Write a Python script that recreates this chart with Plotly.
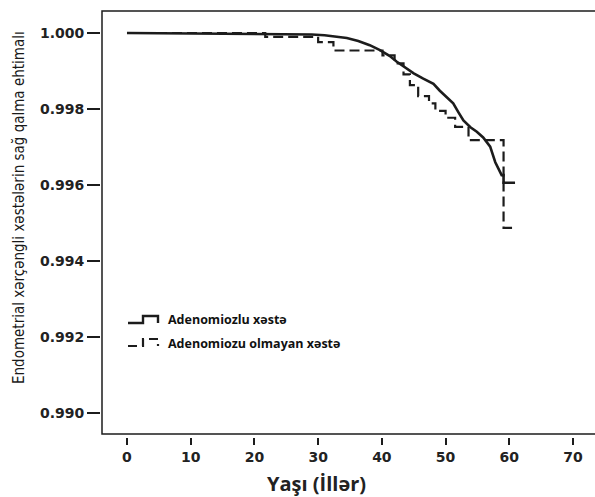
import plotly.graph_objects as go

# Kaplan-Meier style survival data
solid_t = [0, 26.6, 29.0, 31.0, 33.0, 34.5, 36.3, 38.1, 39.7, 41.2, 42.3, 43.6, 45.0,
           46.5, 48.1, 49.1, 50.2, 51.2, 52.0, 52.8, 53.9, 54.9, 55.9, 57.0, 57.8,
           58.8, 59.1, 59.1, 60.9]
solid_s = [1.0, 0.99998, 0.99996, 0.99994, 0.99991, 0.99987, 0.99979, 0.99968, 0.99955,
           0.99940, 0.99925, 0.99910, 0.99894, 0.99880, 0.99866, 0.99848, 0.99830,
           0.99815, 0.99792, 0.99770, 0.99752, 0.99740, 0.99725, 0.99701, 0.99660,
           0.99626, 0.99626, 0.99606, 0.99606]

dash_t = [0, 21.7, 30.0, 32.4, 40.1, 42.0, 43.4, 44.4, 45.7, 47.4, 48.4, 50.0, 51.5,
          53.6, 59.1, 60.9]
dash_s = [1.0, 0.99990, 0.99976, 0.99954, 0.99941, 0.99920, 0.99891, 0.99863, 0.99834,
          0.99815, 0.99795, 0.99777, 0.99753, 0.99718, 0.99487, 0.99487]

series_names = ["Adenomiozlu xəstə", "Adenomiozu olmayan xəstə"]
x_ticks = [0, 10, 20, 30, 40, 50, 60, 70]
y_ticks = [0.990, 0.992, 0.994, 0.996, 0.998, 1.000]
y_ticktext = ["0.990", "0.992", "0.994", "0.996", "0.998", "1.000"]
x_title = "Yaşı (İllər)"
y_title = "Endometrial xərçəngli xəstələrin sağ qalma ehtimalı"

W, H = 595, 497
ML, MR, MT, MB = 100, 0, 11, 60
PW, PH = W - ML - MR, H - MT - MB


def px(x):
    return (x - ML) / PW


def py(y):
    return (H - MB - y) / PH


INK = "#1c1c1c"

fig = go.Figure()
fig.add_trace(go.Scatter(x=solid_t, y=solid_s, mode="lines", line_shape="linear",
                         line=dict(color=INK, width=2.6), name=series_names[0],
                         showlegend=False))
fig.add_trace(go.Scatter(x=dash_t, y=dash_s, mode="lines", line_shape="hv",
                         line=dict(color=INK, width=2.2, dash="10px,5px"),
                         name=series_names[1], showlegend=False))

tickfont = dict(family="DejaVu Sans", size=14, color="#222", weight="bold")

fig.update_layout(
    width=W, height=H,
    margin=dict(l=ML, r=MR, t=MT, b=MB),
    paper_bgcolor="white", plot_bgcolor="white",
    xaxis=dict(domain=[px(102), 1], range=[-3.92, 73.45], anchor="free", position=0,
               showline=False, showgrid=False, zeroline=False,
               ticks="outside", ticklen=7, tickwidth=1.5, tickcolor=INK,
               tickvals=x_ticks, tickfont=tickfont),
    yaxis=dict(domain=[py(434), 1], range=[0.989447, 1.000579], anchor="free", position=0,
               showline=False, showgrid=False, zeroline=False,
               ticks="outside", ticklen=13, tickwidth=1.5, tickcolor=INK,
               tickvals=y_ticks, ticktext=y_ticktext, tickfont=tickfont),
    showlegend=False,
)

# plot frame (left, top, bottom)
fig.add_shape(type="rect", xref="paper", yref="paper",
              x0=px(102), x1=px(620), y0=py(434), y1=py(11),
              line=dict(color=INK, width=1.5))

# axis titles
fig.add_annotation(text=y_title, xref="paper", yref="paper", x=px(19), y=py(208),
                   textangle=-90, showarrow=False, xanchor="center", yanchor="middle",
                   font=dict(family="DejaVu Sans Condensed, Liberation Sans", size=15, color="#1a1a1a"))
fig.add_annotation(text=x_title, xref="paper", yref="paper", x=px(316), y=py(483),
                   showarrow=False, xanchor="center", yanchor="middle",
                   font=dict(family="Open Sans", size=20, color="#222", weight="bold"))

# custom legend
def path(pts):
    s = "M{},{}".format(px(pts[0][0]), py(pts[0][1]))
    for a, b in pts[1:]:
        s += " L{},{}".format(px(a), py(b))
    return s

fig.add_shape(type="path", xref="paper", yref="paper",
              path=path([(128, 323), (143, 323), (143, 316), (158, 316), (158, 323)]),
              line=dict(color=INK, width=2.4))
fig.add_shape(type="path", xref="paper", yref="paper",
              path=path([(128, 346), (143, 346), (143, 339), (158, 339), (158, 346)]),
              line=dict(color=INK, width=2.2, dash="9px,5px"))
for name, yy in zip(series_names, [320, 343]):
    fig.add_annotation(text=name, xref="paper", yref="paper", x=px(166), y=py(yy),
                       showarrow=False, xanchor="left", yanchor="middle",
                       font=dict(family="Open Sans", size=12.5, color="#111", weight="bold"))

fig.write_html("out.html")
